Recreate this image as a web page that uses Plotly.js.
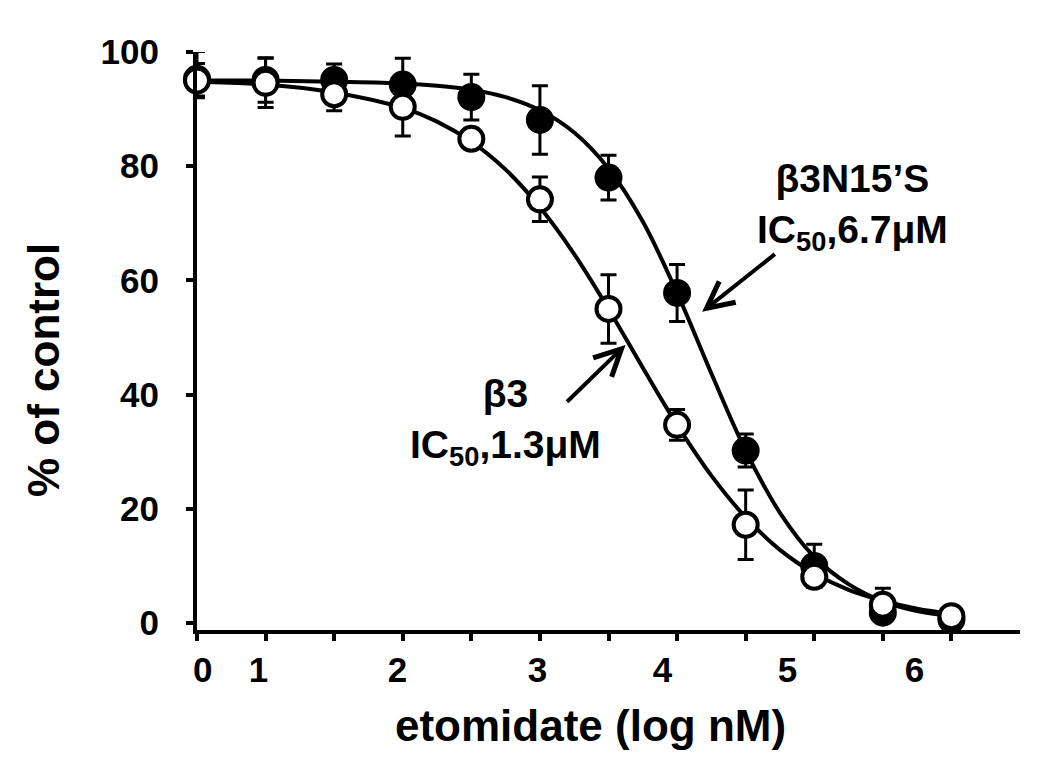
<!DOCTYPE html>
<html>
<head>
<meta charset="utf-8">
<script src="https://cdn.plot.ly/plotly-3.0.1.min.js"></script>
<style>html,body{margin:0;padding:0;background:#fff;}#chart{width:1050px;height:781px;}</style>
</head>
<body>
<div id="chart"></div>
<script>
// Data positions on the x axis (control plotted at the axis start)
const xPoints = [0.5, 1, 1.5, 2, 2.5, 3, 3.5, 4, 4.5, 5, 5.5, 6];

// beta3 (open circles)
const b3Mean = [95.0, 94.6, 92.6, 90.4, 84.8, 74.2, 55.0, 34.7, 17.2, 8.1, 3.2, 1.2];
const b3Err  = [3.0, 4.3, 2.9, 5.1, 1.0, 3.9, 6.0, 2.7, 6.1, 1.5, 2.9, 1.0];

// beta3N15'S (filled circles)
const mutMean  = [95.3, 95.1, 95.1, 94.3, 92.1, 88.1, 78.0, 57.8, 30.2, 10.0, 1.8, 0.6];
const mutErrUp = [4.8, 3.9, 2.8, 4.6, 4.0, 6.0, 3.9, 5.0, 2.9, 3.8, 1.5, 1.0];
const mutErrDn = [3.0, 3.9, 2.8, 4.6, 4.0, 6.0, 3.9, 5.0, 2.9, 3.8, 1.5, 1.0];

// fitted curves
const curveX   = [0.5, 1, 1.5, 2, 2.25, 2.5, 2.75, 3, 3.25, 3.5, 3.75, 4, 4.25, 4.5, 4.75, 5, 5.25, 5.5, 5.75, 6];
const b3Curve  = [94.8, 94.3, 92.9, 90.2, 87.8, 84.3, 79.4, 72.8, 64.6, 55.0, 44.7, 34.7, 25.8, 18.5, 12.8, 8.7, 5.8, 3.9, 2.5, 1.6];
const mutCurve = [95.0, 95.0, 94.8, 94.5, 94.1, 93.4, 92.1, 89.8, 85.9, 79.6, 70.3, 57.8, 43.7, 30.2, 19.3, 11.6, 6.8, 3.8, 2.1, 1.2];

// x tick marks and the separately placed tick labels
const xTickMarks = [0.5, 1, 1.5, 2, 2.5, 3, 3.5, 4, 4.5, 5, 5.5, 6];
const xLabelPos  = [0.541, 0.949, 1.962, 2.982, 3.894, 4.805, 5.730];
const xLabelText = ['0', '1', '2', '3', '4', '5', '6'];
const yTicks = [0, 20, 40, 60, 80, 100];

const FONT = 'Liberation Sans, Arial, sans-serif';

const traces = [
  {x: curveX, y: mutCurve, mode: 'lines', line: {color: '#000', width: 4, shape: 'spline'}, hoverinfo: 'skip', showlegend: false},
  {x: curveX, y: b3Curve, mode: 'lines', line: {color: '#000', width: 4, shape: 'spline'}, hoverinfo: 'skip', showlegend: false},
  {x: xPoints, y: mutMean, mode: 'markers', name: "β3N15'S",
   marker: {symbol: 'circle', size: 24, color: '#000', line: {color: '#000', width: 4}},
   error_y: {type: 'data', symmetric: false, array: mutErrUp, arrayminus: mutErrDn, color: '#000', thickness: 3, width: 8},
   showlegend: false, cliponaxis: false},
  {x: xPoints, y: b3Mean, mode: 'markers', name: 'β3',
   marker: {symbol: 'circle', size: 24, color: '#fff', line: {color: '#000', width: 4}},
   error_y: {type: 'data', array: b3Err, color: '#000', thickness: 3, width: 8},
   showlegend: false, cliponaxis: false},
  // invisible trace to activate the label axis
  {x: [0.5], y: [0], xaxis: 'x2', mode: 'markers', marker: {opacity: 0}, hoverinfo: 'skip', showlegend: false}
];

const layout = {
  width: 1050, height: 781,
  margin: {l: 197, r: 30, t: 52, b: 151},
  paper_bgcolor: '#fff', plot_bgcolor: '#fff',
  font: {family: FONT, color: '#000', size: 35, weight: 700},
  xaxis: {
    range: [0.5, 6.5], showgrid: false, zeroline: false,
    showline: true, linewidth: 4, linecolor: '#000',
    ticks: 'outside', ticklen: 7, tickwidth: 4, tickcolor: '#000',
    tickmode: 'array', tickvals: xTickMarks, showticklabels: false
  },
  xaxis2: {
    overlaying: 'x', side: 'bottom', matches: 'x', range: [0.5, 6.5],
    showgrid: false, zeroline: false, showline: false, ticks: '',
    tickmode: 'array', tickvals: xLabelPos, ticktext: xLabelText,
    tickfont: {family: FONT, size: 35, weight: 700, color: '#000'},
    ticklabelstandoff: 16
  },
  yaxis: {
    range: [-1.23, 100], showgrid: false, zeroline: false,
    showline: true, linewidth: 4, linecolor: '#000',
    ticks: 'outside', ticklen: 7, tickwidth: 4, tickcolor: '#000',
    tickmode: 'array', tickvals: yTicks,
    tickfont: {family: FONT, size: 35, weight: 700, color: '#000'},
    ticklabelstandoff: 20
  },
  annotations: [
    {xref: 'paper', yref: 'paper', x: (590 - 197) / 823, y: (630 - 725) / 578, text: 'etomidate (log nM)',
     showarrow: false, font: {family: FONT, size: 44, weight: 700, color: '#000'}, xanchor: 'center', yanchor: 'middle'},
    {xref: 'paper', yref: 'paper', x: (43 - 197) / 823, y: 1 - (370 - 52) / 578, text: '% of control', textangle: -90,
     showarrow: false, font: {family: FONT, size: 44, weight: 700, color: '#000'}, xanchor: 'center', yanchor: 'middle'},
    {xref: 'x', yref: 'y', x: 5.278, y: 72.9, text: "β3N15’S<br>IC<sub>50</sub>,6.7μM", showarrow: false,
     font: {family: FONT, size: 39, weight: 700, color: '#000'}, align: 'center', xanchor: 'center', yanchor: 'middle'},
    {xref: 'x', yref: 'y', x: 2.749, y: 35.2, text: "β3<br>IC<sub>50</sub>,1.3μM", showarrow: false,
     font: {family: FONT, size: 39, weight: 700, color: '#000'}, align: 'center', xanchor: 'center', yanchor: 'middle'},
    {xref: 'x', yref: 'y', axref: 'x', ayref: 'y', x: 4.183, y: 54.5, ax: 4.724, ay: 64.8, text: '',
     showarrow: true, arrowhead: 5, arrowsize: 1.3, arrowwidth: 4, arrowcolor: '#000', standoff: 0},
    {xref: 'x', yref: 'y', axref: 'x', ayref: 'y', x: 3.624, y: 48.7, ax: 3.187, ay: 38.5, text: '',
     showarrow: true, arrowhead: 5, arrowsize: 1.3, arrowwidth: 4, arrowcolor: '#000', standoff: 0}
  ]
};

Plotly.newPlot('chart', traces, layout, {displayModeBar: false, staticPlot: true});
</script>
</body>
</html>
